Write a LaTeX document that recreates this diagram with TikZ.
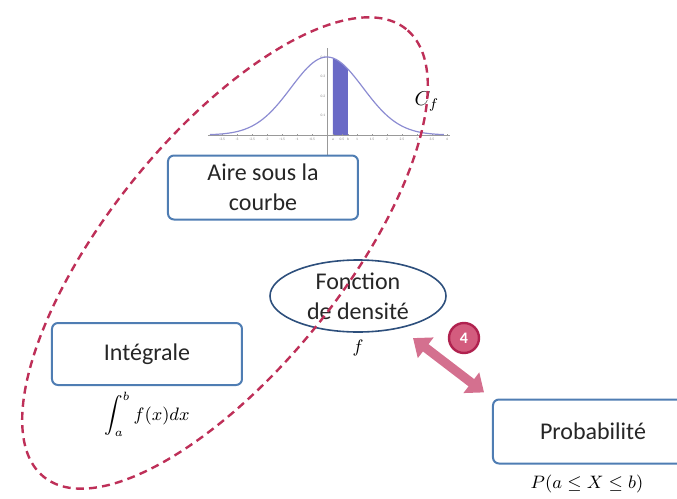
\documentclass[tikz,border=0pt]{standalone}
\usepackage{amsmath}
\usepackage{amssymb}
\usepackage{fontspec}
\setmainfont{Carlito}
\usetikzlibrary{positioning,arrows.meta,shapes.geometric}

\definecolor{boxblue}{HTML}{4F7DB3}
\definecolor{densblue}{HTML}{2D4F7C}
\definecolor{grpred}{HTML}{BE2F58}
\definecolor{arrpink}{HTML}{D4708F}
\definecolor{badgefill}{HTML}{D35C7E}
\definecolor{badgeline}{HTML}{B0224F}
\definecolor{curveblue}{HTML}{8C8CD2}
\definecolor{areablue}{HTML}{6A6AC6}

\tikzset{
  conceptbox/.style={draw=boxblue, line width=1pt, rounded corners=3pt, fill=white,
    minimum width=95pt, minimum height=32pt, align=center, text=black!85,
    font=\fontsize{12}{15}\selectfont},
  densnode/.style={ellipse, draw=densblue, line width=0.8pt, minimum width=88pt,
    minimum height=36pt, inner sep=0pt, align=center, text=black!85,
    font=\fontsize{12}{15}\selectfont},
  formula/.style={inner sep=1pt, font=\fontsize{9}{11}\selectfont},
  tinylabel/.style={inner sep=0pt, text=black!50, font=\fontsize{1.8}{2}\selectfont},
  grpline/.style={draw=grpred, line width=1.2pt, dash pattern=on 4pt off 2.6pt},
  dblarrow/.style={draw=arrpink, line width=4.6pt,
    {Triangle[length=8pt,width=12.5pt]}-{Triangle[length=8pt,width=12.5pt]}},
  badge/.style={circle, fill=badgefill, draw=badgeline, line width=1.2pt,
    minimum size=15pt, inner sep=0pt, text=white, font=\bfseries\fontsize{8}{9}\selectfont}
}

\begin{document}
\begin{tikzpicture}[x=0.5pt,y=-0.5pt]
  \useasboundingbox (0,0) rectangle (677,499);

  \fill[areablue] (333,135) -- plot[domain=0.2:0.7,samples=20] ({327+30*\x},{135-78*exp(-\x*\x/2.88)}) -- (348,135) -- cycle;
  \draw[black!40, line width=0.3pt] (208,135) -- (450,135);
  \draw[black!40, line width=0.3pt] (327,48) -- (327,158);
  \foreach \t/\lab in {-3.5/-3.5,-3/-3,-2.5/-2.5,-2/-2,-1.5/-1.5,-1/-1,-0.5/-0.5,0.2/a,0.5/0.5,0.7/b,1/1,1.5/1.5,2/2,2.5/2.5,3/3,3.5/3.5,4/4} {
    \draw[black!40, line width=0.2pt] ({327+30*\t},134) -- ({327+30*\t},136);
    \node[tinylabel] at ({327+30*\t},139.5) {\lab};
  }
  \foreach \v in {0.1,0.2,0.3,0.4} {
    \node[tinylabel] at (323,{135-195*\v}) {\v};
  }
  \draw[curveblue, line width=0.6pt] plot[domain=-3.9:3.9,samples=90] ({327+30*\x},{135-78*exp(-\x*\x/2.88)});
  \node[inner sep=0pt, font=\fontsize{10}{12}\selectfont] (cf) at (427,102) {$C_f$};

  \node[conceptbox] (aire) at (263,187.5) {Aire sous la\\courbe};
  \node[densnode] (dens) at (358,296) {Fonction\\de densité};
  \node[formula, below=2.5pt of dens] (densf) {$f$};
  \node[conceptbox, minimum height=31pt] (intg) at (147,354) {Intégrale};
  \node[formula, below=2pt of intg] (intgf) {$\displaystyle\int_a^b f(x)dx$};
  \node[conceptbox, minimum width=100pt] (proba) at (593,431.5) {Probabilité};
  \node[formula, below=4pt of proba, xshift=-3pt] (probaf) {$P(a\leq X\leq b)$};

  \draw[grpline, rotate around={51:(225,253)}] (225,253) ellipse [x radius=144pt, y radius=58.5pt];

  \draw[dblarrow, shorten <=8pt, shorten >=5pt] (dens) -- (proba.north west);
  \node[badge] (num) at (464,338) {4};
\end{tikzpicture}
\end{document}
